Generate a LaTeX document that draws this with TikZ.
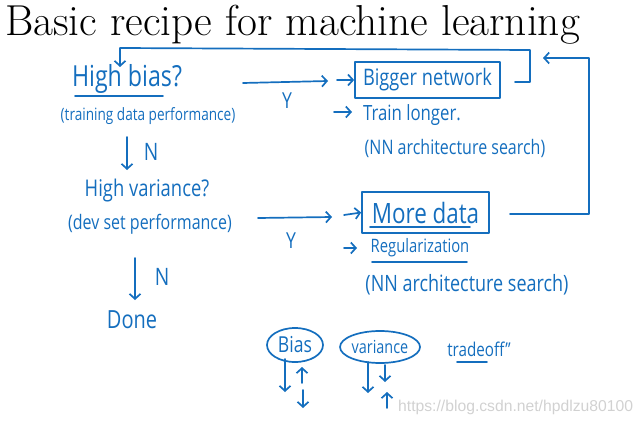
\documentclass[tikz,border=0pt]{standalone}
\usepackage{fontspec}
\usetikzlibrary{arrows.meta,shapes.geometric}
\newfontfamily\hand[FakeStretch=0.8]{Open Sans}
\newfontfamily\wmfont{Liberation Sans}
\definecolor{ink}{RGB}{20,110,190}
\begin{document}
\begin{tikzpicture}[x=1pt,y=-1pt,
  ink/.style={draw=ink,line width=1.7pt,line cap=round,line join=round},
  arr/.style={ink,-{Straight Barb[length=5pt,width=11pt]}},
  hw/.style={text=ink,inner sep=0pt,font=\hand\fontsize{#1}{#1}\selectfont},
  hw/.default=20,
  boxed/.style={ink,rectangle,inner sep=0pt},
  blob/.style={ink,ellipse,inner sep=0pt}]
\useasboundingbox (0,0) rectangle (644,425);
% title
\node[anchor=base west,inner sep=0pt,font=\fontsize{43.3}{50}\selectfont] (title) at (5,36) {Basic recipe for machine learning};
% left column
\node[hw=29] (hb) at (127,79) {High bias?};
\node[hw=17] (tp) at (148,116) {(training data performance)};
\node[hw=24] (n1) at (151,152) {N};
\node[hw=23] (hv) at (147,191) {High variance?};
\node[hw=20] (dp) at (150,224) {(dev set performance)};
\node[hw=24] (n2) at (162,277) {N};
\node[hw=25] (done) at (132,320) {Done};
\coordinate (u1a) at (75,96); \coordinate (u1b) at (163,96);
\draw[ink] (u1a) -- (u1b);
\coordinate (a1s) at (127,137); \coordinate (a1e) at (127,170);
\draw[arr] (a1s) -- (a1e);
\coordinate (a2s) at (135,258); \coordinate (a2e) at (135,300);
\draw[arr] (a2s) -- (a2e);
% right column, first
\node[boxed,hw=22.8,minimum width=145pt,minimum height=36pt] (big) at (427.5,80) {Bigger network};
\node[hw=21] (tl) at (412,115) {Train longer.};
\node[hw=20] (nn1) at (455,148) {(NN architecture search)};
\node[hw=22] (y1) at (287,101) {Y};
\coordinate (l1s) at (243,83); \coordinate (l1e) at (328,81);
\draw[arr] (l1s) -- (l1e);
\coordinate (b1s) at (337,80); \draw[arr] (b1s) -- (big.west);
\coordinate (b2s) at (334,112); \coordinate (b2e) at (352,112);
\draw[arr] (b2s) -- (b2e);
% right column, second
\node[boxed,hw=28,minimum width=127pt,minimum height=41pt] (more) at (425.5,212.5) {More data};
\coordinate (u2a) at (370,227); \coordinate (u2b) at (470,227);
\draw[ink] (u2a) -- (u2b);
\node[hw=18.5] (reg) at (420,248) {Regularization};
\coordinate (u3a) at (372,262); \coordinate (u3b) at (467,262);
\draw[ink] (u3a) -- (u3b);
\node[hw=22.5] (nn2) at (467,285) {(NN architecture search)};
\node[hw=22] (y2) at (291,241) {Y};
\coordinate (l2s) at (258,218); \coordinate (l2e) at (332,217);
\draw[arr] (l2s) -- (l2e);
\coordinate (b3s) at (344,215); \draw[arr] (b3s) -- (more.west);
\coordinate (b4s) at (344,248); \coordinate (b4e) at (357,248);
\draw[arr] (b4s) -- (b4e);
% feedback loops
\coordinate (t1) at (515,82); \coordinate (t2) at (530,82);
\coordinate (t3) at (530,50); \coordinate (t4) at (120,48);
\coordinate (t5) at (120,67);
\draw[arr] (t1) -- (t2) -- (t3) -- (t4) -- (t5);
\coordinate (r1) at (510,214); \coordinate (r2) at (589,214);
\coordinate (r3) at (589,58); \coordinate (r4) at (543,58);
\draw[arr] (r1) -- (r2) -- (r3) -- (r4);
% bias / variance tradeoff
\node[blob,hw=22,minimum width=56pt,minimum height=34pt] (bias) at (295,345) {Bias};
\node[blob,hw=18,minimum width=80pt,minimum height=32pt] (var) at (380,347) {variance};
\node[hw=19] (trade) at (479,349) {tradeoff”};
\coordinate (u4a) at (457,362); \coordinate (u4b) at (487,362);
\draw[ink] (u4a) -- (u4b);
\coordinate (p1s) at (285,359); \coordinate (p1e) at (285,392);
\draw[arr] (p1s) -- (p1e);
\coordinate (p2s) at (302,383); \coordinate (p2e) at (302,367);
\draw[arr] (p2s) -- (p2e);
\coordinate (p3s) at (303,390); \coordinate (p3e) at (303,408);
\draw[arr] (p3s) -- (p3e);
\coordinate (q1s) at (368,362); \coordinate (q1e) at (368,393);
\draw[arr] (q1s) -- (q1e);
\coordinate (q2s) at (385,365); \coordinate (q2e) at (385,382);
\draw[arr] (q2s) -- (q2e);
\coordinate (q3s) at (387,408); \coordinate (q3e) at (387,392);
\draw[arr] (q3s) -- (q3e);
% watermark
\node[anchor=west,inner sep=0pt,text=black!18,font=\wmfont\fontsize{15.7}{16}\selectfont] (wm) at (398,407) {https://blog.csdn.net/hpdlzu80100};
\end{tikzpicture}
\end{document}
